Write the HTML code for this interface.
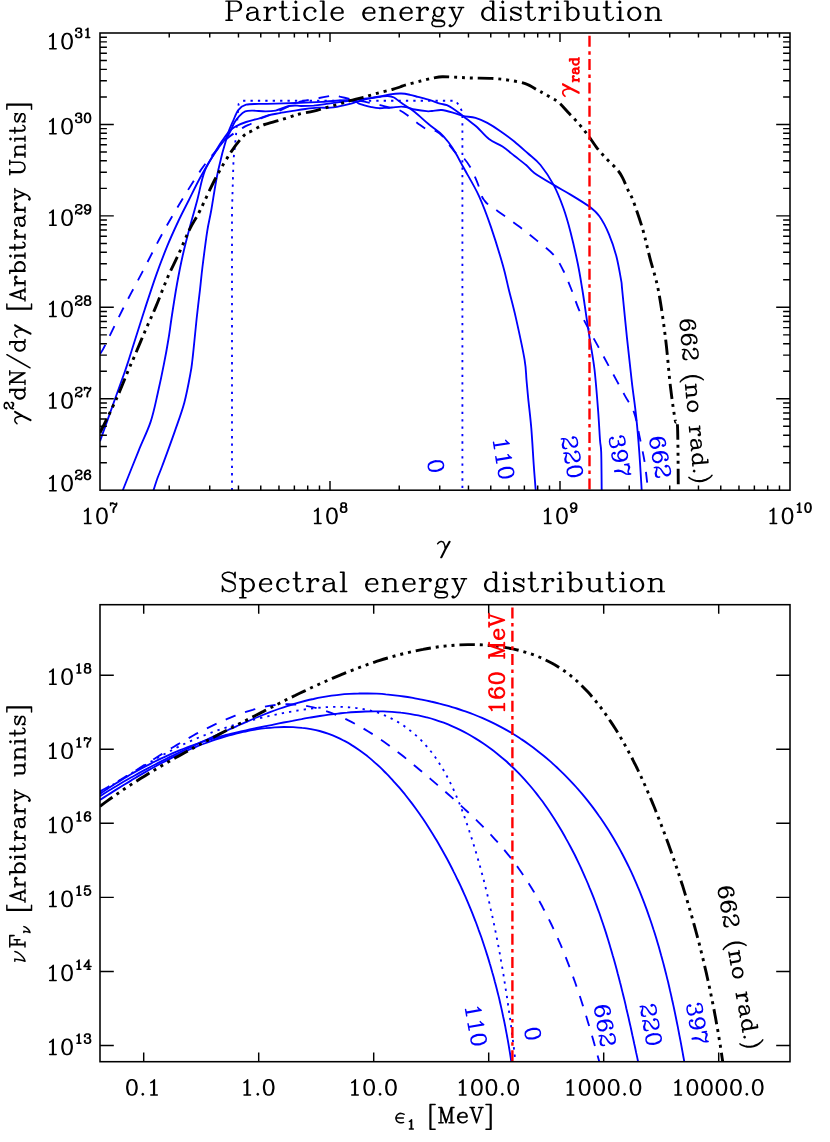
<!DOCTYPE html>
<html lang="en"><head><meta charset="utf-8"><title>Particle and spectral energy distributions</title>
<style>html,body{margin:0;padding:0;background:#fff;font-family:"Liberation Serif",serif}svg{display:block}</style></head>
<body><svg width="830" height="1142" viewBox="0 0 830 1142" role="img" aria-label="Particle energy distribution and Spectral energy distribution plots">
<desc>Top panel: Particle energy distribution; y axis gamma^2 dN/dgamma [Arbitrary Units] 10^26 to 10^31; x axis gamma 10^7 to 10^10; curves labelled 0, 110, 220, 397, 662 and 662 (no rad.); vertical line gamma_rad. Bottom panel: Spectral energy distribution; y axis nu F_nu [Arbitrary units] 10^13 to 10^18; x axis epsilon_1 [MeV] 0.1 1.0 10.0 100.0 1000.0 10000.0; curves 110, 0, 662, 220, 397, 662 (no rad.); vertical line 160 MeV.</desc>
<defs><path id="g0" d="M2 -21 14 -21 16 -20 17 -19 18 -17 18 -14 17 -12 16 -11 14 -10 6 -10M9 0 2 0M5 0 5 -21M6 0 6 -21M14 -10 17 -11 18 -12 19 -14 19 -17 18 -19 17 -20 14 -21"/><path id="g1" d="M5 -12 5 -11 4 -11 4 -12 5 -13 7 -14 11 -14 13 -13 14 -12 14 -3 12 -1 10 0 7 0 4 -1 3 -3 3 -5 4 -7 7 -8 5 -7 4 -5 4 -3 5 -1 7 0M14 -10 13 -9 7 -8M18 0 17 0 15 -1 14 -3M17 0 16 -1 15 -3 15 -10 14 -12"/><path id="g2" d="M2 -14 6 -14 6 0M9 0 2 0M5 0 5 -14M6 -8 7 -11 9 -13 11 -14 14 -14 15 -13 15 -12 14 -11 13 -12 14 -13"/><path id="g3" d="M10 -14 2 -14M5 -21 5 -4 6 -1 8 0 7 -1 6 -4 6 -21M13 -3 12 -1 10 0 8 0"/><path id="g4" d="M2 -14 6 -14 6 0M9 0 2 0M5 0 5 -14M4 -20 5 -21 6 -20 5 -19 4 -20"/><path id="g5" d="M15 -11 14 -10 15 -9 16 -10 16 -11 14 -13 12 -14 9 -14 6 -13 4 -11 3 -8 3 -6 4 -3 6 -1 9 0 7 -1 5 -3 4 -6 4 -8 5 -11 7 -13 9 -14M16 -3 14 -1 11 0 9 0"/><path id="g6" d="M2 -21 6 -21 6 0M9 0 2 0M5 0 5 -21"/><path id="g7" d="M16 -3 14 -1 11 0 9 0 6 -1 4 -3 3 -6 3 -8 4 -11 6 -13 9 -14 7 -13 5 -11 4 -8 4 -6 5 -3 7 -1 9 0M15 -8 15 -11 14 -13 12 -14 9 -14M14 -13 15 -12 16 -10 16 -8 4 -8"/><path id="g8" d="M2 -14 6 -14 6 0M9 0 2 0M5 0 5 -14M6 -11 8 -13 11 -14 13 -14 15 -13 16 -11 16 0M20 0 13 0M17 0 17 -11 16 -13 13 -14"/><path id="g9" d="M6 0 3 1 2 3 2 4 3 6 6 7 12 7 15 6 16 4 16 3 15 1 12 0 7 0 4 -1 3 -2 3 -3 4 -5 5 -6 4 -8 4 -10 5 -12 6 -13 5 -11 5 -7 6 -5 5 -6M16 3 15 2 12 1 7 1 4 0 3 -2M14 -13 16 -13 16 -14 14 -13 13 -12 12 -13 10 -14 8 -14 6 -13M12 -13 13 -11 13 -7 12 -5 10 -4 8 -4 6 -5M13 -12 14 -10 14 -8 13 -6 12 -5"/><path id="g10" d="M8 -14 2 -14M4 6 3 5 2 6 3 7 4 7 6 6 8 4 10 0 4 -14M10 -2 5 -14M16 -14 10 0M18 -14 12 -14"/><path id="g11" d="M12 -21 16 -21 16 0M15 -11 13 -13 11 -14 9 -14 6 -13 4 -11 3 -8 3 -6 4 -3 6 -1 9 0 7 -1 5 -3 4 -6 4 -8 5 -11 7 -13 9 -14M15 -3 13 -1 11 0 9 0M15 -21 15 0 19 0"/><path id="g12" d="M3 -11 4 -10 6 -9 11 -7 13 -6 14 -5 14 -2 13 -1 11 0 7 0 5 -1 4 -2 3 -4 3 0 4 -2M14 -4 13 -5 11 -6 6 -8 4 -9 3 -10 3 -12 4 -13 6 -14 10 -14 12 -13 13 -12 14 -14 14 -10 13 -12"/><path id="g13" d="M2 -21 6 -21 6 0M5 0 5 -21M6 -11 8 -13 10 -14 12 -14 14 -13 16 -11 17 -8 17 -6 16 -3 14 -1 12 0 10 0 8 -1 6 -3M12 0 15 -1 17 -3 18 -6 18 -8 17 -11 15 -13 12 -14"/><path id="g14" d="M2 -14 6 -14 6 -3 7 -1 9 0 6 -1 5 -3 5 -14M13 -14 17 -14 17 0M16 -3 14 -1 11 0 9 0M16 -14 16 0 20 0"/><path id="g15" d="M3 -8 3 -6 4 -3 6 -1 9 0 7 -1 5 -3 4 -6 4 -8 5 -11 7 -13 9 -14 6 -13 4 -11 3 -8M9 0 11 0 13 -1 15 -3 16 -6 16 -8 15 -11 13 -13 11 -14 9 -14M11 0 14 -1 16 -3 17 -6 17 -8 16 -11 14 -13 11 -14"/><path id="g16" d="M16 -18 17 -15 17 -21 16 -18 14 -20 11 -21 8 -21 5 -20 3 -18 3 -16 4 -14 5 -13 7 -12 13 -10 15 -9 17 -7 16 -9 15 -10 13 -11 7 -13 5 -14 3 -16M3 -6 3 0 4 -3 3 -6M17 -7 17 -3 15 -1 12 0 9 0 6 -1 4 -3"/><path id="g17" d="M2 -14 6 -14 6 7M9 7 2 7M5 7 5 -14M6 -11 8 -13 10 -14 12 -14 14 -13 16 -11 17 -8 17 -6 16 -3 14 -1 12 0 10 0 8 -1 6 -3M12 0 15 -1 17 -3 18 -6 18 -8 17 -11 15 -13 12 -14"/><path id="g18" d="M6 -17 8 -18 11 -21 11 0M15 0 6 0M10 0 10 -20"/><path id="g19" d="M3 -12 3 -9 4 -4 6 -1 9 0 7 -1 6 -2 5 -4 4 -9 4 -12 5 -17 6 -19 7 -20 9 -21 6 -20 4 -17 3 -12M9 0 11 0 13 -1 14 -2 15 -4 16 -9 16 -12 15 -17 14 -19 13 -20 11 -21 9 -21M11 0 14 -1 16 -4 17 -9 17 -12 16 -17 14 -20 11 -21"/><path id="g20" d="M4 -17 5 -16 4 -15 3 -16 3 -17 4 -19 5 -20 8 -21 12 -21 14 -20 15 -18 15 -15 14 -13 12 -12 9 -12M4 -4 5 -5 4 -6 3 -5 3 -4 4 -2 5 -1 8 0 12 0 14 -1 15 -2 16 -4 16 -7 15 -10M12 0 15 -1 16 -2 17 -4 17 -7 16 -9 14 -11 12 -12 15 -13 16 -15 16 -18 15 -20 12 -21"/><path id="g21" d="M3 0 3 -3 4 -6 6 -8 12 -11 15 -13 16 -15 16 -17 15 -19 14 -20 12 -21 8 -21 5 -20 4 -19 3 -17 3 -16 4 -15 5 -16 4 -17M3 -2 4 -3 6 -3 11 -1 14 -1 16 -2 17 -3 16 -1 15 0 11 0 6 -3M8 -9 13 -11 16 -13 17 -15 17 -17 16 -19 15 -20 12 -21M17 -5 17 -3"/><path id="g22" d="M5 -3 6 -4 5 -5 4 -4 4 -3 5 -1 7 0 10 0 12 -1 14 -3 15 -5 16 -9 16 -15 15 -18 13 -20 11 -21 9 -21 6 -20 4 -18 3 -15 3 -14 4 -11 6 -9 9 -8 7 -9 5 -11 4 -14 4 -15 5 -18 7 -20 9 -21M16 -14 15 -11 13 -9 10 -8 9 -8M11 -21 14 -20 16 -18 17 -15 17 -9 16 -5 15 -3 13 -1 10 0"/><path id="g23" d="M3 -8 3 -4 4 -2 5 -1 8 0 6 -1 5 -2 4 -4 4 -8 5 -10 6 -11 8 -12 5 -13 4 -15 4 -18 5 -20 8 -21 6 -20 5 -18 5 -15 6 -13 8 -12 5 -11 4 -10 3 -8M8 -12 12 -12 14 -13 15 -15 15 -18 14 -20 12 -21 8 -21M8 0 12 0 14 -1 15 -2 16 -4 16 -8 15 -10 14 -11 12 -12 15 -13 16 -15 16 -18 15 -20 12 -21M12 0 15 -1 16 -2 17 -4 17 -8 16 -10 15 -11 12 -12"/><path id="g24" d="M3 -15 3 -21M3 -17 4 -19 6 -21 8 -21 13 -18 8 -20 6 -20 4 -19M9 0 9 -5 10 -8 11 -10 16 -15 12 -10 11 -8 10 -5 10 0M16 -15 17 -18 17 -21 16 -19 15 -18 13 -18"/><path id="g25" d="M4 -7 5 -10 7 -12 10 -13 11 -13 13 -12 15 -10 16 -7 16 -6 15 -3 13 -1 11 0 9 0 6 -1 4 -3 3 -6 3 -12 4 -16 5 -18 7 -20 10 -21 8 -20 6 -18 5 -16 4 -12 4 -6 5 -3 7 -1 9 0M15 -18 14 -17 15 -16 16 -17 16 -18 15 -20 13 -21 10 -21M11 0 14 -1 16 -3 17 -6 17 -7 16 -10 14 -12 11 -13"/><path id="g26" d="M4 -4 5 -5 4 -6 3 -5 3 -4 4 -2 5 -1 8 0 11 0 13 -1 15 -3 16 -6 16 -8 15 -11 13 -13 11 -14 8 -14 5 -13 3 -11 5 -21 15 -21 10 -20 5 -20M11 0 14 -1 16 -3 17 -6 17 -8 16 -11 14 -13 11 -14"/><path id="g27" d="M18 -6 2 -6 5 -10 10 -17 2 -6 13 -21 5 -10M16 0 9 0M12 0 12 -19M13 0 13 -21 10 -17"/><path id="g28" d="M4 -1 5 -2 6 -1 5 0 4 -1"/><path id="g29" d="M1 -11L3 -13 5 -14 7 -14 9 -13 10 -11 11 -8 11.5 -4 11.5 -2M18 -14L12 -3 6.5 8M17 -14L11 -3 5.5 8"/><path id="g30" d="M2 -21 6 -21 11 -13 13 -10 6 -21 18 -2 11 -13M8 0 2 0M5 0 5 -21M21 -21 15 -21M18 -21 18 0 6 -19 11 -11 13 -8 6 -19M11 -11 18 0 13 -8M13 -10 18 -2"/><path id="g31" d="M2 7 7 -2 6 0 16 -18 15 -16 20 -25 11 -9 2 7"/><path id="g32" d="M4 6.88 4 -25 11 -25M4 7.94 4 -23.94M4 -22.88 4 9 11 9M5 6.88 5 -25M5 7.94 5 -23.94M5 9 5 -22.88"/><path id="g33" d="M7 0 1 0M3 0 10 -21 17 0M14 -6 5 -6M16 0 10 -18M19 0 13 0"/><path id="g34" d="M9 -21 2 -21M5 -21 5 -6 6 -3 8 -1 11 0 9 -1 7 -3 6 -6 6 -21M22 -21 16 -21M19 -21 19 -6 18 -3 16 -1 13 0 11 0"/><path id="g35" d="M3 -25 10 -25 10 6.88M3 9 10 9 10 -22.88M9 6.88 9 -25M9 7.94 9 -23.94M9 9 9 -22.88M10 7.94 10 -23.94"/><path id="g36" d="M1 -14L4 -14 3 -8 2 -3 1 0M14.5 -14L13.5 -11 12 -8.5 10 -6 7 -3 4 -1 1 0"/><path id="g37" d="M2 -21 18 -21 18 -15 17 -21M9 0 2 0M5 0 5 -21M6 0 6 -21M12 -11 6 -11M12 -7 12 -15"/><path id="g38" d="M13.5 -11.62L11 -12.56 8 -13.02 5.5 -12.09 3.5 -10.23 2.3 -7.91 2 -6.51 2.3 -4.65 3.5 -2.33 5.5 -0.74 8 0 10.5 0 12.7 -0.47M2 -6.51L12.3 -6.51"/><path id="g39" d="M2 -21 6 -21 12 -3M8 0 2 0M5 0 5 -21 12 0 19 -21 19 0M23 0 16 0M23 -21 19 -21M20 0 20 -21"/><path id="g40" d="M7 -21 1 -21M3 -21 10 0 17 -21M10 -3 4 -21M19 -21 13 -21"/><path id="g41" d="M11 -25 9 -23 7 -20 5 -16 4 -11 4 -7 5 -2 7 2 9 5 7 1 6 -2 5 -7 5 -11 6 -16 7 -19 9 -23M11 7 9 5"/><path id="g42" d="M3 -25 5 -23 7 -20 9 -16 10 -11 10 -7 9 -2 7 2 5 5 3 7M5 5 7 1 8 -2 9 -7 9 -11 8 -16 7 -19 5 -23"/></defs>
<rect width="830" height="1142" fill="#fff"/>
<g fill="none" stroke-linecap="butt" stroke-linejoin="round">
<clipPath id="c1"><rect x="100" y="33" width="690" height="457.2"/></clipPath><clipPath id="c2"><rect x="100" y="604.7" width="690" height="457"/></clipPath>
<g clip-path="url(#c1)">
<path d="M232.0 490.2L232.0 210.0L233.5 160.0L236.0 135.0L238.6 104.0L242.3 100.7L455.3 100.7L458.5 104.5L462.4 112.0L462.4 490.2" stroke="#0000ff" stroke-width="1.85" stroke-dasharray="2.3 5.1"/>
<path d="M153.5 490.2C154.2 488.1 156.3 481.4 157.8 477.3C159.3 473.2 159.7 472.9 162.5 465.3C165.3 457.7 171.1 442.0 174.7 431.6C178.3 421.2 181.7 412.4 184.3 402.7C186.9 393.0 189.1 380.8 190.4 373.7C191.8 366.6 191.7 365.6 192.4 360.0C193.1 354.4 193.8 346.8 194.5 340.0C195.2 333.2 195.7 327.4 196.6 319.0C197.5 310.6 199.0 298.2 200.0 289.6C201.0 281.0 201.2 277.2 202.4 267.5C203.6 257.8 205.7 240.9 207.2 231.3C208.7 221.7 209.5 220.1 211.3 210.0C213.1 199.9 215.4 183.3 218.1 170.8C220.8 158.3 224.9 143.4 227.5 135.0C230.1 126.6 231.6 124.5 233.4 120.3C235.2 116.1 236.4 112.4 238.5 109.8C240.6 107.2 242.7 105.7 246.1 104.7C249.5 103.7 253.8 104.1 258.7 103.9C263.6 103.7 269.6 103.9 275.6 103.7C281.7 103.5 290.1 103.2 295.0 103.0C299.9 102.8 300.8 102.8 305.3 102.6C309.8 102.4 316.6 102.1 322.2 101.8C327.8 101.5 334.4 100.8 339.0 100.5C343.6 100.2 347.1 100.1 350.0 100.3C352.9 100.5 354.8 101.4 356.3 101.9C357.8 102.5 357.2 102.9 359.0 103.6C360.8 104.3 365.0 105.5 367.2 106.1C369.4 106.7 370.0 106.8 372.0 107.2C374.0 107.6 376.9 108.1 379.0 108.2C381.1 108.3 382.1 108.0 384.3 107.9C386.5 107.8 389.2 107.7 392.0 107.5C394.8 107.3 398.5 106.6 401.2 106.6C403.9 106.6 405.8 107.1 408.0 107.6C410.2 108.1 411.6 108.9 414.7 109.5C417.8 110.1 423.6 111.0 426.5 111.2C429.4 111.5 429.4 111.2 432.0 111.0C434.6 110.8 438.2 109.7 441.8 110.0C445.4 110.3 450.1 111.8 453.6 112.8C457.1 113.8 459.2 115.1 462.9 115.9C466.5 116.8 471.4 116.7 475.5 117.9C479.6 119.1 483.1 120.7 487.3 122.9C491.5 125.2 496.3 128.3 500.8 131.4C505.3 134.5 509.8 137.8 514.3 141.5C518.8 145.2 523.4 149.4 527.8 153.3C532.2 157.2 536.2 159.7 540.5 165.0C544.8 170.3 549.8 177.8 553.6 184.9C557.4 192.0 560.5 200.0 563.3 207.8C566.1 215.6 568.1 222.7 570.5 231.9C572.9 241.2 575.7 253.6 577.7 263.3C579.7 273.0 581.0 281.5 582.4 290.0C583.8 298.5 584.8 306.1 586.0 314.1C587.2 322.1 588.2 329.0 589.6 338.2C591.0 347.4 593.1 357.4 594.5 369.5C595.9 381.6 597.2 398.8 598.1 410.5C599.0 422.2 599.5 433.0 600.0 440.0C600.5 447.0 600.9 443.9 601.2 452.3C601.5 460.7 601.6 483.9 601.7 490.2" stroke="#0000ff" stroke-width="1.85"/>
<path d="M122.9 490.2C123.1 489.7 121.5 493.6 124.1 487.0C126.7 480.4 134.2 461.7 138.6 450.8C143.0 439.9 147.4 431.5 150.6 421.9C153.8 412.3 155.6 402.6 157.8 393.0C160.0 383.4 162.2 372.9 163.9 364.1C165.7 355.3 167.1 347.5 168.3 340.0C169.6 332.5 170.0 328.3 171.4 319.0C172.8 309.7 175.1 294.5 177.0 284.0C178.9 273.5 180.5 265.3 182.6 256.0C184.7 246.7 187.1 237.3 189.6 228.0C192.1 218.7 194.8 209.5 197.3 200.0C199.8 190.5 201.5 179.1 204.8 170.8C208.1 162.5 213.1 156.0 217.0 150.0C220.9 144.0 225.5 139.5 228.4 135.0C231.3 130.5 232.5 126.0 234.3 122.8C236.1 119.6 237.5 118.0 239.3 116.1C241.1 114.2 242.9 112.3 245.2 111.4C247.4 110.5 249.4 110.6 252.8 110.6C256.2 110.6 261.7 111.4 265.5 111.4C269.3 111.4 272.5 111.2 275.6 110.6C278.7 110.0 281.8 108.4 284.0 107.6C286.2 106.8 287.3 106.3 289.1 106.0C290.9 105.7 293.0 105.5 295.0 105.5C297.0 105.5 297.9 106.0 301.0 106.0C304.1 106.0 309.5 105.9 313.7 105.6C317.9 105.2 322.2 104.5 326.4 103.9C330.6 103.3 335.1 102.8 339.0 102.2C342.9 101.6 347.1 100.9 350.0 100.5C352.9 100.1 354.1 100.3 356.3 100.0C358.5 99.7 360.6 99.1 363.0 98.8C365.4 98.5 367.8 98.4 370.6 98.1C373.4 97.8 377.1 97.1 380.0 96.8C382.9 96.5 385.4 95.9 387.7 96.0C390.0 96.1 391.8 96.4 394.0 97.5C396.2 98.6 397.8 100.4 401.2 102.8C404.6 105.2 410.2 108.5 414.7 112.0C419.2 115.5 424.0 120.3 428.2 123.8C432.4 127.3 436.7 129.9 440.1 133.0C443.5 136.1 446.0 139.1 448.5 142.3C451.0 145.6 453.2 149.0 455.3 152.5C457.4 156.0 459.7 160.6 461.2 163.4C462.7 166.2 461.6 163.9 464.5 169.3C467.4 174.7 474.5 186.2 478.9 195.8C483.3 205.4 487.0 215.4 491.0 227.1C495.0 238.8 500.0 255.2 503.0 265.7C506.0 276.2 506.7 281.1 508.9 290.0C511.1 298.9 513.5 307.2 516.1 318.9C518.7 330.5 522.9 349.7 524.6 359.9C526.3 370.1 525.9 373.6 526.5 380.0C527.1 386.4 527.4 390.4 528.2 398.4C529.0 406.4 530.4 417.2 531.3 428.2C532.2 439.2 533.0 454.0 533.7 464.3C534.4 474.6 535.4 485.9 535.7 490.2" stroke="#0000ff" stroke-width="1.85"/>
<path d="M100.0 441.2C102.0 435.6 108.0 418.8 112.0 407.5C116.0 396.2 121.3 381.6 124.1 373.7C126.9 365.8 126.9 365.6 128.7 360.0C130.5 354.4 132.3 348.5 135.0 340.0C137.7 331.5 141.3 319.9 144.8 309.2C148.3 298.5 152.3 286.1 156.0 275.6C159.7 265.1 163.5 255.3 167.2 246.2C170.9 237.1 174.8 228.7 178.4 221.0C182.0 213.3 185.3 207.2 188.9 200.0C192.5 192.8 195.9 185.5 200.0 178.0C204.1 170.5 209.6 161.2 213.3 155.0C217.0 148.8 219.3 144.9 222.0 141.0C224.7 137.1 226.9 133.8 229.2 131.3C231.5 128.8 233.2 127.8 236.0 126.2C238.8 124.7 242.3 123.3 246.1 122.0C249.9 120.7 254.9 119.7 258.7 118.6C262.5 117.5 265.3 116.1 268.8 115.2C272.3 114.3 275.4 113.9 279.8 113.1C284.2 112.3 290.8 111.3 295.0 110.6C299.2 109.9 301.5 109.5 305.3 109.0C309.1 108.5 313.8 107.9 318.0 107.7C322.2 107.5 327.1 107.9 330.6 107.7C334.1 107.5 335.8 107.0 339.0 106.4C342.2 105.8 347.1 104.7 350.0 103.9C352.9 103.2 354.1 102.6 356.3 101.9C358.5 101.2 360.6 100.6 363.0 100.0C365.4 99.4 367.8 98.7 370.6 98.1C373.4 97.5 376.8 97.1 380.0 96.5C383.2 95.9 386.5 94.8 390.0 94.3C393.5 93.8 397.9 93.4 401.2 93.5C404.5 93.6 407.2 94.2 410.0 94.8C412.8 95.4 414.7 96.0 418.0 96.9C421.3 97.8 426.3 99.1 430.0 100.2C433.7 101.3 437.2 102.8 440.0 103.6C442.8 104.4 444.4 104.1 446.9 105.2C449.4 106.3 452.3 108.2 455.0 110.0C457.7 111.8 460.4 114.0 462.9 115.9C465.4 117.8 467.6 119.6 470.0 121.5C472.4 123.4 474.0 124.3 477.2 127.2C480.4 130.1 484.8 135.8 489.0 139.0C493.2 142.2 498.3 143.8 502.5 146.6C506.7 149.4 510.4 152.7 514.3 155.8C518.2 158.9 522.8 162.2 526.1 165.0C529.4 167.8 529.7 169.6 534.3 172.9C538.9 176.2 547.6 181.3 553.6 184.9C559.6 188.5 564.5 191.0 570.5 194.6C576.5 198.2 584.5 203.0 589.3 206.6C594.1 210.2 596.1 211.7 599.4 216.3C602.7 220.9 606.2 227.7 609.0 234.3C611.8 240.9 614.3 248.4 616.3 256.0C618.3 263.6 620.1 274.4 621.1 280.1C622.1 285.8 621.2 280.3 622.2 290.0C623.2 299.7 625.4 322.9 627.0 338.2C628.6 353.5 630.3 368.6 631.8 381.6C633.3 394.6 634.9 404.3 636.1 416.1C637.4 427.9 638.4 440.0 639.3 452.3C640.2 464.6 641.3 483.9 641.7 490.2" stroke="#0000ff" stroke-width="1.85"/>
<path d="M100.0 354.0C100.8 352.6 101.1 353.3 104.9 345.7C108.8 338.1 116.8 320.9 123.1 308.5C129.4 296.1 136.3 283.6 142.7 271.4C149.1 259.1 155.1 246.9 161.6 235.0C168.1 223.1 175.3 210.9 181.9 200.0C188.5 189.1 195.7 177.6 201.2 169.6C206.7 161.6 210.6 157.3 215.0 152.0C219.4 146.7 223.1 142.0 227.7 138.0C232.3 134.0 238.8 130.3 242.7 127.9C246.6 125.5 247.9 125.4 251.1 123.7C254.3 122.0 258.9 119.3 262.1 117.8C265.3 116.3 267.6 116.0 270.5 114.8C273.4 113.6 276.7 112.1 279.8 110.6C282.9 109.1 285.6 107.5 289.1 106.0C292.6 104.5 297.7 102.5 301.0 101.5C304.3 100.5 305.7 100.6 308.7 100.0C311.7 99.4 315.8 98.7 319.2 98.0C322.6 97.3 326.7 96.5 329.3 96.1C331.9 95.7 333.2 95.7 335.0 95.8C336.8 95.9 337.5 96.0 340.0 96.6C342.5 97.1 346.8 98.4 350.1 99.1C353.4 99.8 356.5 100.3 359.8 100.9C363.1 101.5 366.6 102.2 370.0 102.9C373.4 103.6 377.1 104.3 380.2 105.1C383.3 105.9 385.4 106.6 388.7 107.5C392.0 108.4 396.7 109.0 400.1 110.5C403.5 112.0 406.3 114.5 409.2 116.6C412.1 118.7 414.8 121.2 417.6 123.2C420.4 125.2 423.7 127.8 425.9 128.9C428.1 130.0 429.3 129.6 431.0 130.0C432.7 130.4 434.2 130.2 436.1 131.2C438.0 132.2 440.0 133.5 442.2 135.8C444.4 138.1 447.2 142.4 449.4 145.2C451.6 148.0 453.5 150.8 455.4 152.6C457.2 154.4 459.0 154.7 460.5 155.8C462.0 156.9 462.8 157.1 464.5 159.0C466.2 160.9 468.7 164.4 470.5 167.5C472.3 170.6 473.9 174.5 475.3 177.7C476.7 180.9 477.8 183.6 478.9 186.7C480.0 189.8 481.0 194.1 481.9 196.4C482.8 198.7 483.4 199.1 484.5 200.5C485.6 201.9 486.3 203.0 488.6 204.8C490.9 206.6 493.0 207.7 498.2 211.4C503.4 215.1 513.5 222.3 519.9 227.1C526.3 231.9 531.1 235.8 536.7 240.4C542.3 245.0 549.2 249.8 553.6 254.8C558.0 259.8 560.3 264.6 563.3 270.5C566.3 276.4 569.0 283.5 571.6 290.0C574.2 296.5 576.0 302.9 578.8 309.3C581.6 315.7 585.2 322.4 588.4 328.6C591.6 334.8 594.5 339.8 598.1 346.4C601.7 353.0 605.7 360.4 610.1 368.5C614.5 376.6 620.6 387.7 624.6 395.1C628.6 402.5 631.7 405.8 634.2 412.9C636.7 420.0 638.1 429.6 639.8 437.8C641.5 446.0 643.4 454.7 644.6 461.9C645.8 469.1 646.4 476.5 647.0 481.2C647.6 485.9 648.2 488.7 648.5 490.2" stroke="#0000ff" stroke-width="1.85" stroke-dasharray="10.7 10"/>
<path d="M100.0 432.8C102.8 427.0 112.1 408.5 116.9 397.8C121.7 387.1 126.1 375.5 128.9 368.9C131.7 362.3 130.9 364.5 133.6 358.3C136.2 352.1 141.1 340.4 144.8 331.7C148.5 323.0 152.3 315.3 156.0 306.4C159.7 297.5 163.5 287.0 167.2 278.4C170.9 269.8 174.7 262.8 178.4 254.6C182.1 246.4 186.0 236.8 189.6 229.4C193.2 222.1 195.7 219.1 200.0 210.5C204.3 201.9 210.5 187.8 215.7 178.0C220.9 168.2 226.5 158.8 231.3 151.6C236.1 144.4 241.1 138.4 244.4 135.0C247.7 131.6 248.8 132.6 251.1 131.3C253.3 130.1 255.6 128.6 257.9 127.5C260.1 126.4 261.2 125.6 264.6 124.5C268.0 123.4 274.7 121.7 278.1 120.7C281.5 119.7 282.5 119.4 284.9 118.6C287.3 117.8 290.1 116.9 292.5 116.1C294.9 115.3 295.9 114.8 299.4 114.0C302.9 113.2 309.1 112.2 313.7 111.1C318.3 110.0 322.4 108.6 327.2 107.3C332.0 106.0 338.6 104.2 342.4 103.1C346.2 102.0 346.6 101.7 350.1 100.7C353.6 99.7 358.8 98.6 363.4 97.3C368.0 96.0 373.0 94.4 377.8 93.1C382.6 91.8 388.6 90.5 392.3 89.5C396.0 88.5 397.7 87.8 400.0 87.0C402.3 86.2 402.7 85.8 406.1 84.8C409.5 83.8 416.0 82.2 420.6 81.0C425.2 79.8 430.0 78.6 433.6 77.9C437.2 77.2 438.5 76.8 442.3 76.7C446.1 76.6 451.9 77.1 456.7 77.3C461.5 77.5 465.4 77.8 471.2 78.0C477.0 78.2 485.4 78.1 491.6 78.4C497.8 78.8 502.8 79.2 508.4 80.1C514.0 81.0 520.4 82.0 525.3 83.7C530.2 85.4 534.7 88.6 537.9 90.3C541.1 92.0 542.2 92.5 544.5 93.8C546.8 95.1 549.1 96.5 551.5 98.0C553.9 99.5 556.0 100.0 558.9 102.5C561.8 105.0 565.6 109.7 569.0 113.3C572.4 116.9 576.1 120.6 579.2 124.2C582.3 127.8 584.9 131.2 587.8 135.0C590.7 138.8 593.4 143.3 596.5 147.3C599.6 151.3 603.2 155.3 606.6 158.9C610.0 162.5 614.1 165.9 616.7 169.0C619.4 172.1 620.6 174.0 622.5 177.6C624.4 181.2 626.5 186.9 628.3 190.7C630.1 194.5 630.7 194.1 633.1 200.6C635.5 207.1 640.0 219.9 642.8 229.5C645.6 239.1 647.4 248.3 650.0 258.4C652.6 268.5 655.7 276.7 658.3 290.0C660.9 303.3 663.5 322.1 665.5 338.2C667.5 354.3 668.8 372.8 670.4 386.4C672.0 400.0 674.0 413.5 675.2 420.1C676.4 426.7 677.0 414.9 677.5 426.0C678.0 437.1 678.2 476.8 678.3 487.0" stroke="#000" stroke-width="2.9" stroke-dasharray="15.4 4.95 3 4.95 3 4.95 3 4.95"/>
<path d="M589.5 33L589.5 490.2" stroke="#ff0000" stroke-width="2.4" stroke-dasharray="11 4.4 3.5 4.4" stroke-dashoffset="20.5"/>
</g><g clip-path="url(#c2)">
<path d="M100.0 792.6C101.3 791.8 105.1 789.5 107.6 788.0C110.2 786.4 112.7 784.8 115.3 783.3C117.8 781.7 120.4 780.1 123.0 778.5C125.6 776.9 128.1 775.3 130.7 773.8C133.3 772.2 135.9 770.6 138.5 769.0C141.1 767.5 143.7 765.9 146.4 764.4C149.0 762.8 151.6 761.3 154.3 759.8C156.9 758.3 159.6 756.8 162.2 755.3C164.9 753.8 167.6 752.4 170.3 751.0C172.9 749.6 175.6 748.2 178.3 746.8C181.0 745.5 183.8 744.2 186.5 742.9C189.2 741.7 192.0 740.4 194.7 739.3C197.5 738.1 200.2 736.9 203.0 735.8C205.8 734.7 208.6 733.7 211.4 732.6C214.2 731.6 217.0 730.6 219.8 729.6C222.6 728.7 225.5 727.7 228.3 726.8C231.2 725.9 234.0 725.1 236.9 724.2C239.8 723.4 242.7 722.6 245.6 721.8C248.5 721.0 251.4 720.2 254.4 719.5C257.3 718.7 260.3 718.0 263.2 717.3C266.2 716.7 269.1 716.0 272.1 715.4C275.1 714.7 278.1 714.1 281.1 713.5C284.1 712.9 287.1 712.4 290.1 711.8C293.1 711.3 296.1 710.8 299.1 710.3C302.1 709.8 305.1 709.4 308.1 709.0C311.2 708.6 314.2 708.2 317.2 707.9C320.3 707.6 323.3 707.4 326.3 707.2C329.4 707.0 332.4 706.9 335.5 706.9C338.5 706.8 341.6 706.9 344.6 707.0C347.6 707.2 350.7 707.4 353.7 707.7C356.7 708.0 359.7 708.4 362.7 709.0C365.6 709.5 368.6 710.1 371.5 710.9C374.3 711.7 377.2 712.5 380.0 713.5C382.8 714.5 385.5 715.7 388.2 716.9C390.8 718.1 393.4 719.5 396.0 721.0C398.6 722.4 401.1 724.0 403.5 725.6C405.9 727.3 408.3 729.0 410.6 730.9C412.9 732.7 415.2 734.7 417.4 736.7C419.5 738.7 421.7 740.8 423.7 743.0C425.7 745.2 427.7 747.5 429.6 749.8C431.5 752.1 433.3 754.5 435.1 757.0C436.8 759.5 438.5 762.0 440.1 764.6C441.8 767.1 443.3 769.7 444.8 772.4C446.3 775.1 447.7 777.8 449.1 780.5C450.5 783.2 451.8 785.9 453.1 788.7C454.4 791.5 455.6 794.3 456.8 797.1C458.0 799.9 459.1 802.7 460.3 805.5C461.4 808.4 462.4 811.2 463.5 814.1C464.5 816.9 465.5 819.8 466.5 822.7C467.5 825.5 468.5 828.4 469.4 831.3C470.4 834.2 471.3 837.1 472.2 840.0C473.1 842.9 474.0 845.8 474.9 848.7C475.8 851.5 476.6 854.4 477.5 857.4C478.3 860.3 479.1 863.2 479.9 866.1C480.8 869.0 481.5 871.9 482.3 874.8C483.1 877.7 483.9 880.6 484.6 883.6C485.3 886.5 486.1 889.4 486.8 892.3C487.5 895.2 488.2 898.2 488.9 901.1C489.6 904.0 490.3 907.0 490.9 909.9C491.6 912.8 492.2 915.8 492.9 918.7C493.5 921.7 494.1 924.6 494.7 927.5C495.3 930.5 495.9 933.4 496.5 936.4C497.1 939.3 497.7 942.3 498.2 945.2C498.8 948.2 499.3 951.2 499.9 954.1C500.4 957.1 500.9 960.0 501.4 963.0C502.0 966.0 502.5 968.9 503.0 971.9C503.5 974.9 504.0 977.9 504.4 980.8C504.9 983.8 505.4 986.8 505.8 989.8C506.3 992.7 506.8 995.7 507.2 998.7C507.6 1001.7 508.1 1004.7 508.5 1007.7C508.9 1010.7 509.3 1013.6 509.8 1016.6C510.2 1019.6 510.6 1022.6 511.0 1025.6C511.4 1028.6 511.8 1031.6 512.2 1034.6C512.5 1037.6 512.9 1040.6 513.3 1043.6C513.7 1046.6 514.1 1049.7 514.4 1052.7C514.8 1055.7 515.3 1060.2 515.5 1061.7" stroke="#0000ff" stroke-width="1.85" stroke-dasharray="2.3 5.1"/>
<path d="M100.0 799.9C101.3 799.1 105.2 796.6 107.7 795.0C110.3 793.4 112.9 791.7 115.4 790.1C118.0 788.5 120.6 786.9 123.2 785.3C125.8 783.7 128.3 782.1 130.9 780.6C133.5 779.0 136.1 777.5 138.7 775.9C141.3 774.4 143.9 772.9 146.5 771.4C149.1 769.9 151.7 768.4 154.4 767.0C157.0 765.5 159.6 764.1 162.3 762.7C164.9 761.3 167.6 759.9 170.3 758.6C173.0 757.2 175.7 755.9 178.4 754.6C181.1 753.3 183.8 752.1 186.5 750.9C189.3 749.6 192.0 748.5 194.8 747.3C197.6 746.2 200.4 745.0 203.2 744.0C206.0 742.9 208.9 741.8 211.7 740.8C214.6 739.8 217.5 738.9 220.4 738.0C223.3 737.1 226.3 736.2 229.2 735.4C232.2 734.5 235.2 733.8 238.2 733.0C241.2 732.3 244.2 731.7 247.3 731.0C250.3 730.4 253.4 729.9 256.4 729.4C259.5 728.9 262.6 728.5 265.6 728.2C268.7 727.8 271.8 727.5 274.8 727.3C277.9 727.1 281.0 727.0 284.0 727.0C287.1 727.0 290.1 727.0 293.1 727.1C296.1 727.3 299.1 727.5 302.1 727.9C305.1 728.2 308.0 728.6 310.9 729.1C313.8 729.7 316.7 730.3 319.6 731.0C322.4 731.8 325.2 732.6 328.0 733.6C330.7 734.6 333.4 735.6 336.1 736.8C338.8 738.0 341.4 739.3 344.0 740.7C346.6 742.0 349.2 743.5 351.7 745.1C354.2 746.6 356.7 748.3 359.1 750.0C361.5 751.7 363.9 753.5 366.3 755.3C368.6 757.2 371.0 759.1 373.2 761.1C375.5 763.1 377.8 765.1 380.0 767.2C382.2 769.3 384.3 771.5 386.5 773.7C388.6 775.8 390.7 778.1 392.8 780.3C394.8 782.6 396.9 784.8 398.9 787.2C400.9 789.5 402.8 791.8 404.8 794.2C406.7 796.6 408.6 799.0 410.4 801.4C412.3 803.8 414.1 806.3 415.9 808.8C417.7 811.3 419.5 813.8 421.2 816.3C423.0 818.8 424.7 821.4 426.4 823.9C428.1 826.5 429.7 829.1 431.3 831.7C433.0 834.3 434.5 836.9 436.1 839.5C437.7 842.2 439.2 844.8 440.7 847.5C442.2 850.1 443.7 852.8 445.2 855.5C446.7 858.1 448.1 860.8 449.5 863.5C450.9 866.2 452.3 868.9 453.6 871.6C455.0 874.3 456.3 877.0 457.6 879.8C459.0 882.5 460.2 885.2 461.5 888.0C462.8 890.7 464.0 893.5 465.2 896.2C466.4 899.0 467.6 901.8 468.8 904.6C469.9 907.3 471.1 910.1 472.2 912.9C473.3 915.7 474.4 918.5 475.5 921.3C476.6 924.1 477.6 927.0 478.6 929.8C479.7 932.6 480.7 935.5 481.7 938.3C482.6 941.1 483.6 944.0 484.5 946.8C485.5 949.7 486.4 952.6 487.3 955.4C488.2 958.3 489.1 961.2 489.9 964.1C490.8 967.0 491.6 969.9 492.4 972.8C493.3 975.7 494.1 978.6 494.8 981.5C495.6 984.4 496.4 987.3 497.1 990.2C497.8 993.2 498.6 996.1 499.3 999.0C500.0 1002.0 500.6 1004.9 501.3 1007.9C502.0 1010.8 502.6 1013.8 503.2 1016.8C503.9 1019.7 504.5 1022.7 505.1 1025.7C505.6 1028.7 506.2 1031.6 506.8 1034.6C507.3 1037.6 507.9 1040.6 508.4 1043.6C508.9 1046.6 509.4 1049.6 509.9 1052.6C510.4 1055.7 511.1 1060.2 511.3 1061.7" stroke="#0000ff" stroke-width="1.85"/>
<path d="M100.0 793.9C101.3 793.0 105.1 790.4 107.6 788.8C110.2 787.1 112.7 785.4 115.3 783.8C117.9 782.2 120.5 780.6 123.1 779.0C125.7 777.4 128.3 775.9 130.9 774.3C133.5 772.8 136.2 771.3 138.8 769.9C141.5 768.4 144.1 767.0 146.8 765.6C149.5 764.2 152.2 762.9 154.9 761.5C157.6 760.2 160.3 758.9 163.0 757.6C165.7 756.4 168.4 755.1 171.2 753.9C173.9 752.7 176.7 751.6 179.4 750.4C182.2 749.3 185.0 748.2 187.8 747.1C190.5 746.1 193.3 745.0 196.1 744.1C199.0 743.1 201.8 742.1 204.6 741.2C207.4 740.3 210.3 739.4 213.1 738.5C216.0 737.7 218.8 736.9 221.7 736.1C224.6 735.4 227.5 734.6 230.4 733.9C233.2 733.2 236.1 732.5 239.1 731.8C242.0 731.2 244.9 730.5 247.8 729.9C250.8 729.3 253.7 728.6 256.7 728.0C259.6 727.4 262.6 726.8 265.6 726.2C268.5 725.6 271.5 725.0 274.5 724.3C277.5 723.7 280.5 723.1 283.5 722.5C286.5 721.9 289.5 721.3 292.5 720.8C295.5 720.2 298.6 719.6 301.6 719.1C304.6 718.5 307.7 718.0 310.7 717.5C313.7 717.0 316.8 716.5 319.8 716.0C322.8 715.6 325.9 715.1 328.9 714.7C331.9 714.3 335.0 713.9 338.0 713.6C341.0 713.3 344.1 712.9 347.1 712.7C350.1 712.4 353.1 712.2 356.2 712.0C359.2 711.8 362.2 711.6 365.2 711.5C368.2 711.4 371.2 711.3 374.2 711.3C377.2 711.3 380.2 711.3 383.1 711.4C386.1 711.5 389.1 711.7 392.0 711.9C395.0 712.1 397.9 712.3 400.9 712.7C403.8 713.0 406.7 713.4 409.6 713.8C412.5 714.3 415.4 714.8 418.3 715.4C421.2 716.0 424.0 716.7 426.9 717.4C429.7 718.1 432.5 718.9 435.3 719.8C438.1 720.7 440.9 721.7 443.7 722.7C446.5 723.8 449.2 724.9 451.9 726.1C454.7 727.3 457.4 728.5 460.1 729.9C462.7 731.2 465.4 732.6 468.0 734.0C470.6 735.5 473.2 737.0 475.8 738.6C478.4 740.2 480.9 741.8 483.4 743.5C485.9 745.2 488.4 747.0 490.8 748.8C493.3 750.6 495.7 752.5 498.1 754.4C500.4 756.3 502.8 758.3 505.1 760.3C507.4 762.3 509.6 764.4 511.9 766.5C514.1 768.6 516.3 770.7 518.4 772.9C520.5 775.1 522.6 777.3 524.7 779.6C526.7 781.9 528.7 784.2 530.7 786.5C532.7 788.8 534.6 791.2 536.5 793.6C538.3 796.0 540.2 798.4 542.0 800.8C543.8 803.3 545.5 805.8 547.3 808.3C549.0 810.7 550.7 813.3 552.3 815.8C554.0 818.3 555.6 820.9 557.2 823.5C558.8 826.0 560.3 828.6 561.9 831.2C563.4 833.8 564.9 836.4 566.3 839.1C567.8 841.7 569.2 844.3 570.6 847.0C572.0 849.7 573.4 852.3 574.8 855.0C576.1 857.7 577.4 860.4 578.7 863.1C580.0 865.8 581.3 868.5 582.5 871.3C583.7 874.0 584.9 876.7 586.1 879.5C587.3 882.2 588.5 885.0 589.6 887.8C590.8 890.6 591.9 893.3 593.0 896.1C594.1 898.9 595.1 901.7 596.2 904.6C597.2 907.4 598.2 910.2 599.3 913.0C600.3 915.8 601.2 918.7 602.2 921.5C603.2 924.4 604.1 927.2 605.1 930.1C606.0 933.0 606.9 935.8 607.8 938.7C608.7 941.6 609.5 944.5 610.4 947.4C611.3 950.2 612.1 953.1 612.9 956.0C613.8 958.9 614.6 961.8 615.4 964.8C616.2 967.7 617.0 970.6 617.7 973.5C618.5 976.4 619.3 979.3 620.0 982.3C620.8 985.2 621.5 988.1 622.2 991.1C622.9 994.0 623.7 996.9 624.4 999.9C625.1 1002.8 625.8 1005.8 626.4 1008.7C627.1 1011.6 627.8 1014.6 628.5 1017.5C629.1 1020.5 629.8 1023.4 630.5 1026.4C631.1 1029.3 631.8 1032.3 632.4 1035.2C633.1 1038.1 633.7 1041.1 634.3 1044.0C635.0 1047.0 635.6 1049.9 636.2 1052.9C636.9 1055.8 637.8 1060.2 638.1 1061.7" stroke="#0000ff" stroke-width="1.85"/>
<path d="M100.0 796.3C101.3 795.5 105.2 792.9 107.8 791.3C110.4 789.7 113.1 788.0 115.7 786.5C118.3 784.9 120.9 783.3 123.5 781.8C126.2 780.3 128.8 778.8 131.4 777.3C134.1 775.8 136.7 774.3 139.3 772.9C142.0 771.4 144.6 770.0 147.3 768.6C149.9 767.2 152.6 765.8 155.2 764.5C157.9 763.1 160.5 761.7 163.2 760.4C165.9 759.1 168.5 757.7 171.2 756.4C173.9 755.1 176.6 753.8 179.2 752.5C181.9 751.2 184.6 750.0 187.3 748.7C190.0 747.4 192.7 746.2 195.4 744.9C198.1 743.6 200.8 742.4 203.5 741.2C206.2 739.9 209.0 738.7 211.7 737.4C214.4 736.2 217.1 735.0 219.9 733.7C222.6 732.5 225.4 731.3 228.1 730.0C230.9 728.8 233.6 727.5 236.4 726.3C239.1 725.1 241.9 723.8 244.7 722.6C247.5 721.4 250.3 720.2 253.1 719.0C255.9 717.8 258.7 716.7 261.5 715.5C264.3 714.4 267.1 713.3 270.0 712.2C272.8 711.1 275.7 710.0 278.5 709.0C281.4 708.0 284.3 707.0 287.2 706.1C290.1 705.2 293.0 704.3 295.9 703.4C298.8 702.6 301.7 701.8 304.7 701.0C307.6 700.3 310.6 699.6 313.5 699.0C316.5 698.3 319.5 697.7 322.5 697.2C325.5 696.7 328.5 696.2 331.5 695.7C334.5 695.3 337.5 694.9 340.5 694.6C343.5 694.3 346.5 694.1 349.5 693.9C352.5 693.7 355.6 693.5 358.6 693.5C361.6 693.4 364.6 693.4 367.7 693.4C370.7 693.5 373.7 693.6 376.7 693.7C379.8 693.9 382.8 694.1 385.8 694.4C388.8 694.6 391.9 694.9 394.9 695.3C397.9 695.7 400.9 696.1 403.9 696.5C406.9 696.9 409.9 697.4 412.9 697.9C415.8 698.5 418.8 699.0 421.8 699.6C424.8 700.2 427.7 700.8 430.7 701.5C433.6 702.1 436.5 702.8 439.5 703.6C442.4 704.3 445.3 705.1 448.2 705.9C451.1 706.8 454.0 707.6 456.8 708.5C459.7 709.4 462.5 710.4 465.4 711.4C468.2 712.4 471.0 713.4 473.8 714.5C476.6 715.6 479.4 716.7 482.1 717.9C484.9 719.1 487.6 720.3 490.3 721.6C493.0 722.9 495.7 724.2 498.3 725.6C501.0 727.0 503.6 728.4 506.2 729.9C508.8 731.4 511.4 732.9 514.0 734.5C516.5 736.1 519.1 737.7 521.6 739.4C524.1 741.0 526.5 742.7 529.0 744.5C531.4 746.2 533.9 748.0 536.3 749.9C538.6 751.7 541.0 753.6 543.3 755.5C545.7 757.4 548.0 759.4 550.3 761.4C552.5 763.4 554.8 765.4 557.0 767.5C559.2 769.6 561.4 771.7 563.6 773.8C565.7 775.9 567.8 778.1 569.9 780.3C572.0 782.5 574.1 784.7 576.1 787.0C578.1 789.3 580.1 791.6 582.1 793.9C584.0 796.2 585.9 798.5 587.8 800.9C589.7 803.3 591.6 805.7 593.4 808.1C595.2 810.5 597.0 813.0 598.7 815.5C600.5 817.9 602.2 820.4 603.9 822.9C605.5 825.4 607.2 828.0 608.8 830.5C610.4 833.1 611.9 835.7 613.5 838.2C615.0 840.8 616.5 843.4 618.0 846.1C619.5 848.7 620.9 851.3 622.3 854.0C623.7 856.7 625.1 859.4 626.4 862.0C627.8 864.7 629.1 867.5 630.4 870.2C631.7 872.9 632.9 875.7 634.1 878.4C635.4 881.2 636.6 883.9 637.7 886.7C638.9 889.5 640.1 892.3 641.2 895.1C642.3 897.9 643.4 900.7 644.5 903.6C645.5 906.4 646.6 909.2 647.6 912.1C648.6 914.9 649.6 917.8 650.6 920.7C651.6 923.5 652.5 926.4 653.4 929.3C654.4 932.2 655.3 935.1 656.2 938.0C657.0 940.9 657.9 943.8 658.8 946.7C659.6 949.7 660.4 952.6 661.2 955.5C662.1 958.5 662.8 961.4 663.6 964.3C664.4 967.3 665.1 970.2 665.9 973.2C666.6 976.1 667.3 979.1 668.1 982.0C668.8 985.0 669.5 987.9 670.1 990.9C670.8 993.8 671.5 996.8 672.1 999.8C672.8 1002.7 673.4 1005.7 674.1 1008.7C674.7 1011.6 675.3 1014.6 675.9 1017.5C676.5 1020.5 677.1 1023.4 677.7 1026.4C678.3 1029.4 678.8 1032.3 679.4 1035.3C680.0 1038.2 680.5 1041.2 681.1 1044.1C681.6 1047.0 682.2 1050.0 682.7 1052.9C683.2 1055.8 684.0 1060.2 684.3 1061.7" stroke="#0000ff" stroke-width="1.85"/>
<path d="M100.0 791.4C101.3 790.7 105.3 788.5 107.9 787.0C110.6 785.5 113.2 784.0 115.8 782.5C118.4 781.0 121.0 779.4 123.6 777.9C126.2 776.3 128.8 774.7 131.4 773.1C133.9 771.6 136.5 770.0 139.1 768.4C141.6 766.8 144.2 765.1 146.8 763.5C149.4 761.9 151.9 760.3 154.5 758.7C157.1 757.1 159.6 755.5 162.2 753.9C164.8 752.3 167.4 750.7 170.0 749.1C172.6 747.5 175.2 746.0 177.8 744.4C180.4 742.8 183.1 741.3 185.7 739.8C188.3 738.3 191.0 736.8 193.7 735.3C196.4 733.8 199.0 732.4 201.8 731.0C204.5 729.6 207.2 728.2 210.0 726.8C212.7 725.5 215.5 724.2 218.3 722.9C221.1 721.6 223.9 720.4 226.7 719.2C229.5 718.0 232.4 716.8 235.2 715.7C238.1 714.6 241.0 713.5 243.9 712.6C246.8 711.6 249.7 710.6 252.7 709.8C255.6 708.9 258.5 708.2 261.5 707.5C264.4 706.8 267.4 706.2 270.4 705.7C273.3 705.3 276.3 704.9 279.3 704.6C282.2 704.4 285.2 704.2 288.2 704.2C291.1 704.3 294.1 704.4 297.0 704.7C300.0 704.9 302.9 705.3 305.9 705.8C308.8 706.3 311.7 706.9 314.6 707.7C317.5 708.4 320.4 709.2 323.3 710.1C326.1 711.0 329.0 712.0 331.8 713.1C334.6 714.2 337.4 715.3 340.2 716.5C343.0 717.8 345.7 719.0 348.4 720.4C351.2 721.7 353.8 723.1 356.5 724.6C359.2 726.0 361.8 727.5 364.4 729.1C367.0 730.7 369.6 732.3 372.2 733.9C374.7 735.5 377.3 737.2 379.8 739.0C382.3 740.7 384.8 742.4 387.3 744.2C389.8 746.0 392.2 747.9 394.7 749.7C397.1 751.6 399.5 753.4 402.0 755.3C404.4 757.3 406.8 759.2 409.2 761.1C411.5 763.1 413.9 765.0 416.3 767.0C418.7 769.0 421.0 770.9 423.4 772.9C425.7 774.9 428.1 776.9 430.4 778.9C432.7 780.9 435.1 782.9 437.4 784.9C439.7 786.9 442.0 788.9 444.3 790.9C446.6 792.9 448.9 794.9 451.2 796.9C453.5 799.0 455.8 801.0 458.0 803.0C460.3 805.1 462.6 807.1 464.8 809.2C467.0 811.2 469.2 813.3 471.4 815.3C473.6 817.4 475.8 819.5 477.9 821.6C480.1 823.7 482.2 825.9 484.3 828.0C486.4 830.2 488.5 832.3 490.6 834.5C492.6 836.7 494.7 838.9 496.7 841.1C498.7 843.4 500.7 845.6 502.6 847.9C504.5 850.2 506.4 852.5 508.3 854.8C510.2 857.1 512.0 859.5 513.9 861.9C515.7 864.3 517.4 866.7 519.2 869.2C520.9 871.6 522.6 874.1 524.3 876.6C526.0 879.1 527.6 881.6 529.2 884.2C530.8 886.7 532.4 889.3 534.0 891.9C535.5 894.5 537.0 897.1 538.5 899.7C540.0 902.4 541.5 905.0 542.9 907.7C544.4 910.4 545.8 913.1 547.1 915.8C548.5 918.5 549.9 921.3 551.2 924.0C552.5 926.8 553.8 929.5 555.1 932.3C556.4 935.1 557.6 937.9 558.8 940.7C560.1 943.5 561.3 946.3 562.4 949.1C563.6 952.0 564.8 954.8 565.9 957.7C567.0 960.5 568.1 963.4 569.2 966.2C570.3 969.1 571.4 972.0 572.4 974.9C573.5 977.8 574.5 980.7 575.5 983.5C576.5 986.4 577.5 989.3 578.5 992.2C579.5 995.1 580.4 998.0 581.4 1001.0C582.3 1003.9 583.3 1006.8 584.2 1009.7C585.1 1012.6 586.0 1015.5 586.9 1018.4C587.7 1021.3 588.6 1024.2 589.5 1027.1C590.3 1030.0 591.2 1032.9 592.0 1035.8C592.9 1038.7 593.7 1041.6 594.5 1044.5C595.3 1047.4 596.1 1050.2 596.9 1053.1C597.7 1056.0 598.9 1060.3 599.3 1061.7" stroke="#0000ff" stroke-width="1.85" stroke-dasharray="10.7 10"/>
<path d="M100.0 806.3C101.2 805.4 104.8 802.7 107.3 800.9C109.7 799.2 112.2 797.4 114.6 795.7C117.1 794.0 119.6 792.3 122.1 790.6C124.5 788.9 127.1 787.2 129.6 785.6C132.1 783.9 134.6 782.3 137.1 780.7C139.7 779.1 142.2 777.5 144.8 775.9C147.3 774.3 149.9 772.7 152.5 771.2C155.0 769.7 157.6 768.1 160.2 766.6C162.8 765.1 165.4 763.6 168.0 762.1C170.6 760.6 173.2 759.1 175.9 757.6C178.5 756.2 181.1 754.7 183.7 753.2C186.4 751.8 189.0 750.3 191.6 748.9C194.3 747.5 196.9 746.1 199.6 744.6C202.2 743.2 204.9 741.8 207.5 740.4C210.2 739.0 212.8 737.6 215.5 736.2C218.2 734.8 220.8 733.4 223.5 732.0C226.2 730.6 228.8 729.3 231.5 727.9C234.2 726.5 236.8 725.1 239.5 723.7C242.2 722.4 244.8 721.0 247.5 719.6C250.2 718.2 252.8 716.9 255.5 715.5C258.1 714.1 260.8 712.7 263.5 711.4C266.1 710.0 268.8 708.6 271.5 707.3C274.1 705.9 276.8 704.6 279.5 703.2C282.2 701.9 284.8 700.5 287.5 699.2C290.2 697.9 292.9 696.6 295.6 695.3C298.3 693.9 301.0 692.6 303.7 691.4C306.4 690.1 309.1 688.8 311.8 687.5C314.5 686.3 317.3 685.0 320.0 683.8C322.7 682.6 325.5 681.3 328.2 680.1C331.0 678.9 333.7 677.8 336.5 676.6C339.3 675.4 342.1 674.3 344.8 673.2C347.6 672.0 350.4 670.9 353.3 669.8C356.1 668.8 358.9 667.7 361.7 666.7C364.6 665.6 367.4 664.6 370.3 663.6C373.2 662.6 376.1 661.7 379.0 660.7C381.8 659.8 384.7 658.9 387.7 658.0C390.6 657.2 393.5 656.3 396.4 655.5C399.4 654.7 402.3 654.0 405.2 653.2C408.2 652.5 411.2 651.8 414.1 651.2C417.1 650.5 420.1 649.9 423.0 649.4C426.0 648.8 429.0 648.3 432.0 647.8C435.0 647.3 438.0 646.9 441.0 646.5C443.9 646.2 446.9 645.8 449.9 645.6C452.9 645.3 455.9 645.1 459.0 644.9C462.0 644.8 465.0 644.7 468.0 644.6C471.0 644.6 474.0 644.6 477.0 644.7C480.0 644.8 483.0 644.9 486.0 645.1C489.0 645.3 492.0 645.6 495.0 646.0C498.0 646.3 500.9 646.7 503.9 647.2C506.8 647.7 509.8 648.2 512.7 648.9C515.6 649.5 518.5 650.2 521.3 651.0C524.2 651.8 527.0 652.6 529.8 653.6C532.6 654.5 535.4 655.5 538.1 656.6C540.8 657.7 543.5 658.9 546.1 660.2C548.8 661.5 551.4 662.8 553.9 664.3C556.4 665.7 558.9 667.3 561.3 668.9C563.8 670.5 566.1 672.2 568.5 674.0C570.8 675.8 573.0 677.7 575.3 679.6C577.5 681.6 579.6 683.6 581.8 685.7C583.9 687.8 586.0 689.9 588.0 692.1C590.0 694.3 592.0 696.6 593.9 698.9C595.9 701.2 597.8 703.6 599.6 706.0C601.5 708.4 603.3 710.9 605.0 713.3C606.8 715.8 608.6 718.3 610.2 720.9C611.9 723.4 613.6 726.0 615.2 728.6C616.8 731.1 618.4 733.8 620.0 736.4C621.5 739.0 623.1 741.6 624.5 744.3C626.0 746.9 627.5 749.6 628.9 752.3C630.4 755.0 631.8 757.6 633.1 760.4C634.5 763.1 635.8 765.8 637.2 768.5C638.5 771.2 639.8 774.0 641.1 776.7C642.3 779.5 643.6 782.2 644.8 785.0C646.0 787.7 647.3 790.5 648.4 793.3C649.6 796.1 650.8 798.9 652.0 801.6C653.1 804.4 654.3 807.2 655.4 810.0C656.5 812.8 657.6 815.6 658.7 818.4C659.8 821.2 660.9 824.1 662.0 826.9C663.1 829.7 664.1 832.5 665.2 835.3C666.2 838.1 667.3 840.9 668.3 843.8C669.3 846.6 670.3 849.4 671.3 852.2C672.3 855.1 673.3 857.9 674.3 860.7C675.3 863.6 676.2 866.4 677.2 869.2C678.1 872.1 679.1 874.9 680.0 877.8C680.9 880.6 681.8 883.5 682.8 886.3C683.7 889.2 684.5 892.0 685.4 894.9C686.3 897.7 687.2 900.6 688.0 903.4C688.9 906.3 689.7 909.2 690.6 912.1C691.4 914.9 692.2 917.8 693.0 920.7C693.8 923.6 694.6 926.4 695.4 929.3C696.2 932.2 697.0 935.1 697.7 938.0C698.5 940.9 699.2 943.8 700.0 946.7C700.7 949.6 701.4 952.5 702.1 955.4C702.9 958.3 703.6 961.2 704.2 964.1C704.9 967.0 705.6 969.9 706.3 972.9C706.9 975.8 707.6 978.7 708.2 981.6C708.9 984.6 709.5 987.5 710.1 990.4C710.7 993.4 711.3 996.3 711.9 999.2C712.5 1002.2 713.1 1005.1 713.7 1008.1C714.3 1011.0 714.8 1014.0 715.4 1017.0C715.9 1019.9 716.4 1022.9 717.0 1025.9C717.5 1028.8 718.0 1031.8 718.5 1034.8C719.0 1037.8 719.5 1040.7 720.0 1043.7C720.5 1046.7 720.9 1049.7 721.4 1052.7C721.8 1055.7 722.5 1060.2 722.7 1061.7" stroke="#000" stroke-width="2.9" stroke-dasharray="15.4 4.95 3 4.95 3 4.95 3 4.95"/>
<path d="M512.4 604.7L512.4 1061.7" stroke="#ff0000" stroke-width="2.4" stroke-dasharray="11 4.4 3.5 4.4" stroke-dashoffset="20.5"/>
</g>
</g>
<g fill="none" stroke-linecap="square">
<rect x="100.0" y="33.0" width="690.0" height="457.2" fill="none" stroke="#000" stroke-width="1.55"/>
<rect x="100.0" y="604.7" width="690.0" height="457.0" fill="none" stroke="#000" stroke-width="1.55"/>
<path d="M169.24 490.20L169.24 485.60M169.24 33.00L169.24 37.60M209.74 490.20L209.74 485.60M209.74 33.00L209.74 37.60M238.47 490.20L238.47 485.60M238.47 33.00L238.47 37.60M260.76 490.20L260.76 485.60M260.76 33.00L260.76 37.60M278.97 490.20L278.97 485.60M278.97 33.00L278.97 37.60M294.37 490.20L294.37 485.60M294.37 33.00L294.37 37.60M307.71 490.20L307.71 485.60M307.71 33.00L307.71 37.60M319.48 490.20L319.48 485.60M319.48 33.00L319.48 37.60M330.00 490.20L330.00 481.10M330.00 33.00L330.00 42.10M399.24 490.20L399.24 485.60M399.24 33.00L399.24 37.60M439.74 490.20L439.74 485.60M439.74 33.00L439.74 37.60M468.47 490.20L468.47 485.60M468.47 33.00L468.47 37.60M490.76 490.20L490.76 485.60M490.76 33.00L490.76 37.60M508.97 490.20L508.97 485.60M508.97 33.00L508.97 37.60M524.37 490.20L524.37 485.60M524.37 33.00L524.37 37.60M537.71 490.20L537.71 485.60M537.71 33.00L537.71 37.60M549.48 490.20L549.48 485.60M549.48 33.00L549.48 37.60M560.00 490.20L560.00 481.10M560.00 33.00L560.00 42.10M629.24 490.20L629.24 485.60M629.24 33.00L629.24 37.60M669.74 490.20L669.74 485.60M669.74 33.00L669.74 37.60M698.47 490.20L698.47 485.60M698.47 33.00L698.47 37.60M720.76 490.20L720.76 485.60M720.76 33.00L720.76 37.60M738.97 490.20L738.97 485.60M738.97 33.00L738.97 37.60M754.37 490.20L754.37 485.60M754.37 33.00L754.37 37.60M767.71 490.20L767.71 485.60M767.71 33.00L767.71 37.60M779.48 490.20L779.48 485.60M779.48 33.00L779.48 37.60M100.00 96.91L106.90 96.91M790.00 96.91L783.10 96.91M100.00 80.81L106.90 80.81M790.00 80.81L783.10 80.81M100.00 69.39L106.90 69.39M790.00 69.39L783.10 69.39M100.00 60.53L106.90 60.53M790.00 60.53L783.10 60.53M100.00 53.29L106.90 53.29M790.00 53.29L783.10 53.29M100.00 47.16L106.90 47.16M790.00 47.16L783.10 47.16M100.00 41.86L106.90 41.86M790.00 41.86L783.10 41.86M100.00 37.18L106.90 37.18M790.00 37.18L783.10 37.18M100.00 124.44L113.80 124.44M790.00 124.44L776.20 124.44M100.00 188.35L106.90 188.35M790.00 188.35L783.10 188.35M100.00 172.25L106.90 172.25M790.00 172.25L783.10 172.25M100.00 160.83L106.90 160.83M790.00 160.83L783.10 160.83M100.00 151.97L106.90 151.97M790.00 151.97L783.10 151.97M100.00 144.73L106.90 144.73M790.00 144.73L783.10 144.73M100.00 138.60L106.90 138.60M790.00 138.60L783.10 138.60M100.00 133.30L106.90 133.30M790.00 133.30L783.10 133.30M100.00 128.62L106.90 128.62M790.00 128.62L783.10 128.62M100.00 215.88L113.80 215.88M790.00 215.88L776.20 215.88M100.00 279.79L106.90 279.79M790.00 279.79L783.10 279.79M100.00 263.69L106.90 263.69M790.00 263.69L783.10 263.69M100.00 252.27L106.90 252.27M790.00 252.27L783.10 252.27M100.00 243.41L106.90 243.41M790.00 243.41L783.10 243.41M100.00 236.17L106.90 236.17M790.00 236.17L783.10 236.17M100.00 230.04L106.90 230.04M790.00 230.04L783.10 230.04M100.00 224.74L106.90 224.74M790.00 224.74L783.10 224.74M100.00 220.06L106.90 220.06M790.00 220.06L783.10 220.06M100.00 307.32L113.80 307.32M790.00 307.32L776.20 307.32M100.00 371.23L106.90 371.23M790.00 371.23L783.10 371.23M100.00 355.13L106.90 355.13M790.00 355.13L783.10 355.13M100.00 343.71L106.90 343.71M790.00 343.71L783.10 343.71M100.00 334.85L106.90 334.85M790.00 334.85L783.10 334.85M100.00 327.61L106.90 327.61M790.00 327.61L783.10 327.61M100.00 321.48L106.90 321.48M790.00 321.48L783.10 321.48M100.00 316.18L106.90 316.18M790.00 316.18L783.10 316.18M100.00 311.50L106.90 311.50M790.00 311.50L783.10 311.50M100.00 398.76L113.80 398.76M790.00 398.76L776.20 398.76M100.00 462.67L106.90 462.67M790.00 462.67L783.10 462.67M100.00 446.57L106.90 446.57M790.00 446.57L783.10 446.57M100.00 435.15L106.90 435.15M790.00 435.15L783.10 435.15M100.00 426.29L106.90 426.29M790.00 426.29L783.10 426.29M100.00 419.05L106.90 419.05M790.00 419.05L783.10 419.05M100.00 412.92L106.90 412.92M790.00 412.92L783.10 412.92M100.00 407.62L106.90 407.62M790.00 407.62L783.10 407.62M100.00 402.94L106.90 402.94M790.00 402.94L783.10 402.94M143.70 1061.70L143.70 1052.60M143.70 604.70L143.70 613.80M258.70 1061.70L258.70 1052.60M258.70 604.70L258.70 613.80M373.70 1061.70L373.70 1052.60M373.70 604.70L373.70 613.80M488.70 1061.70L488.70 1052.60M488.70 604.70L488.70 613.80M603.70 1061.70L603.70 1052.60M603.70 604.70L603.70 613.80M718.70 1061.70L718.70 1052.60M718.70 604.70L718.70 613.80M100.00 675.20L113.80 675.20M790.00 675.20L776.20 675.20M100.00 749.25L113.80 749.25M790.00 749.25L776.20 749.25M100.00 823.30L113.80 823.30M790.00 823.30L776.20 823.30M100.00 897.35L113.80 897.35M790.00 897.35L776.20 897.35M100.00 971.40L113.80 971.40M790.00 971.40L776.20 971.40M100.00 1045.45L113.80 1045.45M790.00 1045.45L776.20 1045.45" stroke="#000" stroke-width="1.45" stroke-linecap="butt"/>
</g>
<g fill="none" stroke-linecap="round" stroke-linejoin="round">
<g transform="translate(224.10,20.20) rotate(0)" stroke="#000"><use href="#g0" transform="translate(0.00,0.00) scale(0.9075)" stroke-width="1.60"/><use href="#g1" transform="translate(19.96,0.00) scale(0.9075)" stroke-width="1.60"/><use href="#g2" transform="translate(38.11,0.00) scale(0.9075)" stroke-width="1.60"/><use href="#g3" transform="translate(53.54,0.00) scale(0.9075)" stroke-width="1.60"/><use href="#g4" transform="translate(67.16,0.00) scale(0.9075)" stroke-width="1.60"/><use href="#g5" transform="translate(77.14,0.00) scale(0.9075)" stroke-width="1.60"/><use href="#g6" transform="translate(94.38,0.00) scale(0.9075)" stroke-width="1.60"/><use href="#g7" transform="translate(104.36,0.00) scale(0.9075)" stroke-width="1.60"/><use href="#g7" transform="translate(136.12,0.00) scale(0.9075)" stroke-width="1.60"/><use href="#g8" transform="translate(153.37,0.00) scale(0.9075)" stroke-width="1.60"/><use href="#g7" transform="translate(173.33,0.00) scale(0.9075)" stroke-width="1.60"/><use href="#g2" transform="translate(190.58,0.00) scale(0.9075)" stroke-width="1.60"/><use href="#g9" transform="translate(206.00,0.00) scale(0.9075)" stroke-width="1.60"/><use href="#g10" transform="translate(223.25,0.00) scale(0.9075)" stroke-width="1.60"/><use href="#g11" transform="translate(255.01,0.00) scale(0.9075)" stroke-width="1.60"/><use href="#g4" transform="translate(274.07,0.00) scale(0.9075)" stroke-width="1.60"/><use href="#g12" transform="translate(284.05,0.00) scale(0.9075)" stroke-width="1.60"/><use href="#g3" transform="translate(299.48,0.00) scale(0.9075)" stroke-width="1.60"/><use href="#g2" transform="translate(313.09,0.00) scale(0.9075)" stroke-width="1.60"/><use href="#g4" transform="translate(328.52,0.00) scale(0.9075)" stroke-width="1.60"/><use href="#g13" transform="translate(338.50,0.00) scale(0.9075)" stroke-width="1.60"/><use href="#g14" transform="translate(357.56,0.00) scale(0.9075)" stroke-width="1.60"/><use href="#g3" transform="translate(377.52,0.00) scale(0.9075)" stroke-width="1.60"/><use href="#g4" transform="translate(391.13,0.00) scale(0.9075)" stroke-width="1.60"/><use href="#g15" transform="translate(401.12,0.00) scale(0.9075)" stroke-width="1.60"/><use href="#g8" transform="translate(419.27,0.00) scale(0.9075)" stroke-width="1.60"/></g>
<g transform="translate(219.70,591.40) rotate(0)" stroke="#000"><use href="#g16" transform="translate(0.00,0.00) scale(0.9075)" stroke-width="1.60"/><use href="#g17" transform="translate(18.15,0.00) scale(0.9075)" stroke-width="1.60"/><use href="#g7" transform="translate(37.21,0.00) scale(0.9075)" stroke-width="1.60"/><use href="#g5" transform="translate(54.45,0.00) scale(0.9075)" stroke-width="1.60"/><use href="#g3" transform="translate(71.69,0.00) scale(0.9075)" stroke-width="1.60"/><use href="#g2" transform="translate(85.30,0.00) scale(0.9075)" stroke-width="1.60"/><use href="#g1" transform="translate(100.73,0.00) scale(0.9075)" stroke-width="1.60"/><use href="#g6" transform="translate(118.88,0.00) scale(0.9075)" stroke-width="1.60"/><use href="#g7" transform="translate(143.38,0.00) scale(0.9075)" stroke-width="1.60"/><use href="#g8" transform="translate(160.63,0.00) scale(0.9075)" stroke-width="1.60"/><use href="#g7" transform="translate(180.59,0.00) scale(0.9075)" stroke-width="1.60"/><use href="#g2" transform="translate(197.84,0.00) scale(0.9075)" stroke-width="1.60"/><use href="#g9" transform="translate(213.26,0.00) scale(0.9075)" stroke-width="1.60"/><use href="#g10" transform="translate(230.51,0.00) scale(0.9075)" stroke-width="1.60"/><use href="#g11" transform="translate(262.27,0.00) scale(0.9075)" stroke-width="1.60"/><use href="#g4" transform="translate(281.33,0.00) scale(0.9075)" stroke-width="1.60"/><use href="#g12" transform="translate(291.31,0.00) scale(0.9075)" stroke-width="1.60"/><use href="#g3" transform="translate(306.74,0.00) scale(0.9075)" stroke-width="1.60"/><use href="#g2" transform="translate(320.35,0.00) scale(0.9075)" stroke-width="1.60"/><use href="#g4" transform="translate(335.78,0.00) scale(0.9075)" stroke-width="1.60"/><use href="#g13" transform="translate(345.76,0.00) scale(0.9075)" stroke-width="1.60"/><use href="#g14" transform="translate(364.82,0.00) scale(0.9075)" stroke-width="1.60"/><use href="#g3" transform="translate(384.78,0.00) scale(0.9075)" stroke-width="1.60"/><use href="#g4" transform="translate(398.39,0.00) scale(0.9075)" stroke-width="1.60"/><use href="#g15" transform="translate(408.38,0.00) scale(0.9075)" stroke-width="1.60"/><use href="#g8" transform="translate(426.53,0.00) scale(0.9075)" stroke-width="1.60"/></g>
<g transform="translate(45.30,48.80) rotate(0)" stroke="#000"><use href="#g18" transform="translate(0.00,0.00) scale(0.726)" stroke-width="2.00"/><use href="#g19" transform="translate(14.52,0.00) scale(0.726)" stroke-width="2.00"/><use href="#g20" transform="translate(29.04,-11.30) scale(0.44)" stroke-width="3.30"/><use href="#g18" transform="translate(37.84,-11.30) scale(0.44)" stroke-width="3.30"/></g>
<g transform="translate(45.30,133.85) rotate(0)" stroke="#000"><use href="#g18" transform="translate(0.00,0.00) scale(0.726)" stroke-width="2.00"/><use href="#g19" transform="translate(14.52,0.00) scale(0.726)" stroke-width="2.00"/><use href="#g20" transform="translate(29.04,-11.30) scale(0.44)" stroke-width="3.30"/><use href="#g19" transform="translate(37.84,-11.30) scale(0.44)" stroke-width="3.30"/></g>
<g transform="translate(45.30,225.20) rotate(0)" stroke="#000"><use href="#g18" transform="translate(0.00,0.00) scale(0.726)" stroke-width="2.00"/><use href="#g19" transform="translate(14.52,0.00) scale(0.726)" stroke-width="2.00"/><use href="#g21" transform="translate(29.04,-11.30) scale(0.44)" stroke-width="3.30"/><use href="#g22" transform="translate(37.84,-11.30) scale(0.44)" stroke-width="3.30"/></g>
<g transform="translate(45.30,316.60) rotate(0)" stroke="#000"><use href="#g18" transform="translate(0.00,0.00) scale(0.726)" stroke-width="2.00"/><use href="#g19" transform="translate(14.52,0.00) scale(0.726)" stroke-width="2.00"/><use href="#g21" transform="translate(29.04,-11.30) scale(0.44)" stroke-width="3.30"/><use href="#g23" transform="translate(37.84,-11.30) scale(0.44)" stroke-width="3.30"/></g>
<g transform="translate(45.30,408.00) rotate(0)" stroke="#000"><use href="#g18" transform="translate(0.00,0.00) scale(0.726)" stroke-width="2.00"/><use href="#g19" transform="translate(14.52,0.00) scale(0.726)" stroke-width="2.00"/><use href="#g21" transform="translate(29.04,-11.30) scale(0.44)" stroke-width="3.30"/><use href="#g24" transform="translate(37.84,-11.30) scale(0.44)" stroke-width="3.30"/></g>
<g transform="translate(45.30,490.80) rotate(0)" stroke="#000"><use href="#g18" transform="translate(0.00,0.00) scale(0.726)" stroke-width="2.00"/><use href="#g19" transform="translate(14.52,0.00) scale(0.726)" stroke-width="2.00"/><use href="#g21" transform="translate(29.04,-11.30) scale(0.44)" stroke-width="3.30"/><use href="#g25" transform="translate(37.84,-11.30) scale(0.44)" stroke-width="3.30"/></g>
<g transform="translate(99.10,523.50) rotate(0)" stroke="#000"><use href="#g18" transform="translate(-18.92,0.00) scale(0.726)" stroke-width="2.00"/><use href="#g19" transform="translate(-4.40,0.00) scale(0.726)" stroke-width="2.00"/><use href="#g24" transform="translate(10.12,-11.30) scale(0.44)" stroke-width="3.30"/></g>
<g transform="translate(329.10,523.50) rotate(0)" stroke="#000"><use href="#g18" transform="translate(-18.92,0.00) scale(0.726)" stroke-width="2.00"/><use href="#g19" transform="translate(-4.40,0.00) scale(0.726)" stroke-width="2.00"/><use href="#g23" transform="translate(10.12,-11.30) scale(0.44)" stroke-width="3.30"/></g>
<g transform="translate(559.10,523.50) rotate(0)" stroke="#000"><use href="#g18" transform="translate(-18.92,0.00) scale(0.726)" stroke-width="2.00"/><use href="#g19" transform="translate(-4.40,0.00) scale(0.726)" stroke-width="2.00"/><use href="#g22" transform="translate(10.12,-11.30) scale(0.44)" stroke-width="3.30"/></g>
<g transform="translate(789.10,523.50) rotate(0)" stroke="#000"><use href="#g18" transform="translate(-23.32,0.00) scale(0.726)" stroke-width="2.00"/><use href="#g19" transform="translate(-8.80,0.00) scale(0.726)" stroke-width="2.00"/><use href="#g18" transform="translate(5.72,-11.30) scale(0.44)" stroke-width="3.30"/><use href="#g19" transform="translate(14.52,-11.30) scale(0.44)" stroke-width="3.30"/></g>
<g transform="translate(45.30,684.30) rotate(0)" stroke="#000"><use href="#g18" transform="translate(0.00,0.00) scale(0.726)" stroke-width="2.00"/><use href="#g19" transform="translate(14.52,0.00) scale(0.726)" stroke-width="2.00"/><use href="#g18" transform="translate(29.04,-11.30) scale(0.44)" stroke-width="3.30"/><use href="#g23" transform="translate(37.84,-11.30) scale(0.44)" stroke-width="3.30"/></g>
<g transform="translate(45.30,758.35) rotate(0)" stroke="#000"><use href="#g18" transform="translate(0.00,0.00) scale(0.726)" stroke-width="2.00"/><use href="#g19" transform="translate(14.52,0.00) scale(0.726)" stroke-width="2.00"/><use href="#g18" transform="translate(29.04,-11.30) scale(0.44)" stroke-width="3.30"/><use href="#g24" transform="translate(37.84,-11.30) scale(0.44)" stroke-width="3.30"/></g>
<g transform="translate(45.30,832.40) rotate(0)" stroke="#000"><use href="#g18" transform="translate(0.00,0.00) scale(0.726)" stroke-width="2.00"/><use href="#g19" transform="translate(14.52,0.00) scale(0.726)" stroke-width="2.00"/><use href="#g18" transform="translate(29.04,-11.30) scale(0.44)" stroke-width="3.30"/><use href="#g25" transform="translate(37.84,-11.30) scale(0.44)" stroke-width="3.30"/></g>
<g transform="translate(45.30,906.45) rotate(0)" stroke="#000"><use href="#g18" transform="translate(0.00,0.00) scale(0.726)" stroke-width="2.00"/><use href="#g19" transform="translate(14.52,0.00) scale(0.726)" stroke-width="2.00"/><use href="#g18" transform="translate(29.04,-11.30) scale(0.44)" stroke-width="3.30"/><use href="#g26" transform="translate(37.84,-11.30) scale(0.44)" stroke-width="3.30"/></g>
<g transform="translate(45.30,980.50) rotate(0)" stroke="#000"><use href="#g18" transform="translate(0.00,0.00) scale(0.726)" stroke-width="2.00"/><use href="#g19" transform="translate(14.52,0.00) scale(0.726)" stroke-width="2.00"/><use href="#g18" transform="translate(29.04,-11.30) scale(0.44)" stroke-width="3.30"/><use href="#g27" transform="translate(37.84,-11.30) scale(0.44)" stroke-width="3.30"/></g>
<g transform="translate(45.30,1054.55) rotate(0)" stroke="#000"><use href="#g18" transform="translate(0.00,0.00) scale(0.726)" stroke-width="2.00"/><use href="#g19" transform="translate(14.52,0.00) scale(0.726)" stroke-width="2.00"/><use href="#g18" transform="translate(29.04,-11.30) scale(0.44)" stroke-width="3.30"/><use href="#g20" transform="translate(37.84,-11.30) scale(0.44)" stroke-width="3.30"/></g>
<g transform="translate(142.80,1095.05) rotate(0)" stroke="#000"><use href="#g19" transform="translate(-18.15,0.00) scale(0.726)" stroke-width="2.00"/><use href="#g28" transform="translate(-3.63,0.00) scale(0.726)" stroke-width="2.00"/><use href="#g18" transform="translate(3.63,0.00) scale(0.726)" stroke-width="2.00"/></g>
<g transform="translate(257.80,1095.05) rotate(0)" stroke="#000"><use href="#g18" transform="translate(-18.15,0.00) scale(0.726)" stroke-width="2.00"/><use href="#g28" transform="translate(-3.63,0.00) scale(0.726)" stroke-width="2.00"/><use href="#g19" transform="translate(3.63,0.00) scale(0.726)" stroke-width="2.00"/></g>
<g transform="translate(372.80,1095.05) rotate(0)" stroke="#000"><use href="#g18" transform="translate(-25.41,0.00) scale(0.726)" stroke-width="2.00"/><use href="#g19" transform="translate(-10.89,0.00) scale(0.726)" stroke-width="2.00"/><use href="#g28" transform="translate(3.63,0.00) scale(0.726)" stroke-width="2.00"/><use href="#g19" transform="translate(10.89,0.00) scale(0.726)" stroke-width="2.00"/></g>
<g transform="translate(487.80,1095.05) rotate(0)" stroke="#000"><use href="#g18" transform="translate(-32.67,0.00) scale(0.726)" stroke-width="2.00"/><use href="#g19" transform="translate(-18.15,0.00) scale(0.726)" stroke-width="2.00"/><use href="#g19" transform="translate(-3.63,0.00) scale(0.726)" stroke-width="2.00"/><use href="#g28" transform="translate(10.89,0.00) scale(0.726)" stroke-width="2.00"/><use href="#g19" transform="translate(18.15,0.00) scale(0.726)" stroke-width="2.00"/></g>
<g transform="translate(602.80,1095.05) rotate(0)" stroke="#000"><use href="#g18" transform="translate(-39.93,0.00) scale(0.726)" stroke-width="2.00"/><use href="#g19" transform="translate(-25.41,0.00) scale(0.726)" stroke-width="2.00"/><use href="#g19" transform="translate(-10.89,0.00) scale(0.726)" stroke-width="2.00"/><use href="#g19" transform="translate(3.63,0.00) scale(0.726)" stroke-width="2.00"/><use href="#g28" transform="translate(18.15,0.00) scale(0.726)" stroke-width="2.00"/><use href="#g19" transform="translate(25.41,0.00) scale(0.726)" stroke-width="2.00"/></g>
<g transform="translate(717.80,1095.05) rotate(0)" stroke="#000"><use href="#g18" transform="translate(-47.19,0.00) scale(0.726)" stroke-width="2.00"/><use href="#g19" transform="translate(-32.67,0.00) scale(0.726)" stroke-width="2.00"/><use href="#g19" transform="translate(-18.15,0.00) scale(0.726)" stroke-width="2.00"/><use href="#g19" transform="translate(-3.63,0.00) scale(0.726)" stroke-width="2.00"/><use href="#g19" transform="translate(10.89,0.00) scale(0.726)" stroke-width="2.00"/><use href="#g28" transform="translate(25.41,0.00) scale(0.726)" stroke-width="2.00"/><use href="#g19" transform="translate(32.67,0.00) scale(0.726)" stroke-width="2.00"/></g>
<g transform="translate(25.00,424.50) rotate(-90)" stroke="#000"><use href="#g29" transform="translate(0.00,0.00) scale(0.726)" stroke-width="2.00"/><use href="#g21" transform="translate(14.52,-11.50) scale(0.44)" stroke-width="3.30"/><use href="#g11" transform="translate(23.32,0.00) scale(0.726)" stroke-width="2.00"/><use href="#g30" transform="translate(38.57,0.00) scale(0.726)" stroke-width="2.00"/><use href="#g31" transform="translate(55.26,0.00) scale(0.726)" stroke-width="2.00"/><use href="#g11" transform="translate(71.24,0.00) scale(0.726)" stroke-width="2.00"/><use href="#g29" transform="translate(86.48,0.00) scale(0.726)" stroke-width="2.00"/><use href="#g32" transform="translate(112.62,0.00) scale(0.726)" stroke-width="2.00"/><use href="#g33" transform="translate(122.78,0.00) scale(0.726)" stroke-width="2.00"/><use href="#g2" transform="translate(137.30,0.00) scale(0.726)" stroke-width="2.00"/><use href="#g13" transform="translate(149.64,0.00) scale(0.726)" stroke-width="2.00"/><use href="#g4" transform="translate(164.89,0.00) scale(0.726)" stroke-width="2.00"/><use href="#g3" transform="translate(172.88,0.00) scale(0.726)" stroke-width="2.00"/><use href="#g2" transform="translate(183.77,0.00) scale(0.726)" stroke-width="2.00"/><use href="#g1" transform="translate(196.11,0.00) scale(0.726)" stroke-width="2.00"/><use href="#g2" transform="translate(210.63,0.00) scale(0.726)" stroke-width="2.00"/><use href="#g10" transform="translate(222.97,0.00) scale(0.726)" stroke-width="2.00"/><use href="#g34" transform="translate(248.38,0.00) scale(0.726)" stroke-width="2.00"/><use href="#g8" transform="translate(265.80,0.00) scale(0.726)" stroke-width="2.00"/><use href="#g4" transform="translate(281.78,0.00) scale(0.726)" stroke-width="2.00"/><use href="#g3" transform="translate(289.76,0.00) scale(0.726)" stroke-width="2.00"/><use href="#g12" transform="translate(300.65,0.00) scale(0.726)" stroke-width="2.00"/><use href="#g35" transform="translate(312.99,0.00) scale(0.726)" stroke-width="2.00"/></g>
<g transform="translate(436.90,551.70) rotate(0)" stroke="#000"><use href="#g29" transform="translate(0.00,0.00) scale(0.726)" stroke-width="2.00"/></g>
<g transform="translate(25.00,962.00) rotate(-90)" stroke="#000"><use href="#g36" transform="translate(0.00,0.00) scale(0.726)" stroke-width="2.00"/><use href="#g37" transform="translate(13.50,0.00) scale(0.726)" stroke-width="2.00"/><use href="#g36" transform="translate(29.04,5.00) scale(0.44)" stroke-width="3.30"/><use href="#g32" transform="translate(48.84,0.00) scale(0.726)" stroke-width="2.00"/><use href="#g33" transform="translate(59.00,0.00) scale(0.726)" stroke-width="2.00"/><use href="#g2" transform="translate(73.52,0.00) scale(0.726)" stroke-width="2.00"/><use href="#g13" transform="translate(85.87,0.00) scale(0.726)" stroke-width="2.00"/><use href="#g4" transform="translate(101.11,0.00) scale(0.726)" stroke-width="2.00"/><use href="#g3" transform="translate(109.10,0.00) scale(0.726)" stroke-width="2.00"/><use href="#g2" transform="translate(119.99,0.00) scale(0.726)" stroke-width="2.00"/><use href="#g1" transform="translate(132.33,0.00) scale(0.726)" stroke-width="2.00"/><use href="#g2" transform="translate(146.85,0.00) scale(0.726)" stroke-width="2.00"/><use href="#g10" transform="translate(159.19,0.00) scale(0.726)" stroke-width="2.00"/><use href="#g14" transform="translate(184.60,0.00) scale(0.726)" stroke-width="2.00"/><use href="#g8" transform="translate(200.57,0.00) scale(0.726)" stroke-width="2.00"/><use href="#g4" transform="translate(216.55,0.00) scale(0.726)" stroke-width="2.00"/><use href="#g3" transform="translate(224.53,0.00) scale(0.726)" stroke-width="2.00"/><use href="#g12" transform="translate(235.42,0.00) scale(0.726)" stroke-width="2.00"/><use href="#g35" transform="translate(247.76,0.00) scale(0.726)" stroke-width="2.00"/></g>
<g transform="translate(394.40,1122.75) rotate(0)" stroke="#000"><use href="#g38" transform="translate(0.00,0.00) scale(0.726)" stroke-width="2.00"/><use href="#g18" transform="translate(12.34,6.20) scale(0.44)" stroke-width="3.30"/><use href="#g32" transform="translate(32.76,0.00) scale(0.726)" stroke-width="2.00"/><use href="#g39" transform="translate(42.92,0.00) scale(0.726)" stroke-width="2.00"/><use href="#g7" transform="translate(61.07,0.00) scale(0.726)" stroke-width="2.00"/><use href="#g40" transform="translate(74.87,0.00) scale(0.726)" stroke-width="2.00"/><use href="#g35" transform="translate(89.39,0.00) scale(0.726)" stroke-width="2.00"/></g>
<g transform="translate(427.13,460.17) rotate(80)" stroke="#0000ff"><use href="#g19" transform="translate(0.00,0.00) scale(0.726)" stroke-width="2.00"/></g>
<g transform="translate(492.86,437.98) rotate(81)" stroke="#0000ff"><use href="#g18" transform="translate(0.00,0.00) scale(0.726)" stroke-width="2.00"/><use href="#g18" transform="translate(14.52,0.00) scale(0.726)" stroke-width="2.00"/><use href="#g19" transform="translate(29.04,0.00) scale(0.726)" stroke-width="2.00"/></g>
<g transform="translate(561.01,436.87) rotate(80)" stroke="#0000ff"><use href="#g21" transform="translate(0.00,0.00) scale(0.726)" stroke-width="2.00"/><use href="#g21" transform="translate(14.52,0.00) scale(0.726)" stroke-width="2.00"/><use href="#g19" transform="translate(29.04,0.00) scale(0.726)" stroke-width="2.00"/></g>
<g transform="translate(608.51,435.87) rotate(80)" stroke="#0000ff"><use href="#g20" transform="translate(0.00,0.00) scale(0.726)" stroke-width="2.00"/><use href="#g22" transform="translate(14.52,0.00) scale(0.726)" stroke-width="2.00"/><use href="#g24" transform="translate(29.04,0.00) scale(0.726)" stroke-width="2.00"/></g>
<g transform="translate(648.91,436.87) rotate(80)" stroke="#0000ff"><use href="#g25" transform="translate(0.00,0.00) scale(0.726)" stroke-width="2.00"/><use href="#g25" transform="translate(14.52,0.00) scale(0.726)" stroke-width="2.00"/><use href="#g21" transform="translate(29.04,0.00) scale(0.726)" stroke-width="2.00"/></g>
<g transform="translate(679.54,318.54) rotate(84.8)" stroke="#000"><use href="#g25" transform="translate(0.00,0.00) scale(0.726)" stroke-width="2.00"/><use href="#g25" transform="translate(14.52,0.00) scale(0.726)" stroke-width="2.00"/><use href="#g21" transform="translate(29.04,0.00) scale(0.726)" stroke-width="2.00"/><use href="#g41" transform="translate(55.18,0.00) scale(0.726)" stroke-width="2.00"/><use href="#g8" transform="translate(65.34,0.00) scale(0.726)" stroke-width="2.00"/><use href="#g15" transform="translate(81.31,0.00) scale(0.726)" stroke-width="2.00"/><use href="#g2" transform="translate(107.45,0.00) scale(0.726)" stroke-width="2.00"/><use href="#g1" transform="translate(119.79,0.00) scale(0.726)" stroke-width="2.00"/><use href="#g11" transform="translate(134.31,0.00) scale(0.726)" stroke-width="2.00"/><use href="#g28" transform="translate(149.56,0.00) scale(0.726)" stroke-width="2.00"/><use href="#g42" transform="translate(156.82,0.00) scale(0.726)" stroke-width="2.00"/></g>
<g transform="translate(464.81,1005.17) rotate(80)" stroke="#0000ff"><use href="#g18" transform="translate(0.00,0.00) scale(0.726)" stroke-width="2.00"/><use href="#g18" transform="translate(14.52,0.00) scale(0.726)" stroke-width="2.00"/><use href="#g19" transform="translate(29.04,0.00) scale(0.726)" stroke-width="2.00"/></g>
<g transform="translate(524.03,1027.87) rotate(80)" stroke="#0000ff"><use href="#g19" transform="translate(0.00,0.00) scale(0.726)" stroke-width="2.00"/></g>
<g transform="translate(593.71,1005.17) rotate(80)" stroke="#0000ff"><use href="#g25" transform="translate(0.00,0.00) scale(0.726)" stroke-width="2.00"/><use href="#g25" transform="translate(14.52,0.00) scale(0.726)" stroke-width="2.00"/><use href="#g21" transform="translate(29.04,0.00) scale(0.726)" stroke-width="2.00"/></g>
<g transform="translate(639.81,1004.57) rotate(80)" stroke="#0000ff"><use href="#g21" transform="translate(0.00,0.00) scale(0.726)" stroke-width="2.00"/><use href="#g21" transform="translate(14.52,0.00) scale(0.726)" stroke-width="2.00"/><use href="#g19" transform="translate(29.04,0.00) scale(0.726)" stroke-width="2.00"/></g>
<g transform="translate(686.01,1003.37) rotate(80)" stroke="#0000ff"><use href="#g20" transform="translate(0.00,0.00) scale(0.726)" stroke-width="2.00"/><use href="#g22" transform="translate(14.52,0.00) scale(0.726)" stroke-width="2.00"/><use href="#g24" transform="translate(29.04,0.00) scale(0.726)" stroke-width="2.00"/></g>
<g transform="translate(717.29,886.40) rotate(80)" stroke="#000"><use href="#g25" transform="translate(0.00,0.00) scale(0.726)" stroke-width="2.00"/><use href="#g25" transform="translate(14.52,0.00) scale(0.726)" stroke-width="2.00"/><use href="#g21" transform="translate(29.04,0.00) scale(0.726)" stroke-width="2.00"/><use href="#g41" transform="translate(55.18,0.00) scale(0.726)" stroke-width="2.00"/><use href="#g8" transform="translate(65.34,0.00) scale(0.726)" stroke-width="2.00"/><use href="#g15" transform="translate(81.31,0.00) scale(0.726)" stroke-width="2.00"/><use href="#g2" transform="translate(107.45,0.00) scale(0.726)" stroke-width="2.00"/><use href="#g1" transform="translate(119.79,0.00) scale(0.726)" stroke-width="2.00"/><use href="#g11" transform="translate(134.31,0.00) scale(0.726)" stroke-width="2.00"/><use href="#g28" transform="translate(149.56,0.00) scale(0.726)" stroke-width="2.00"/><use href="#g42" transform="translate(156.82,0.00) scale(0.726)" stroke-width="2.00"/></g>
<g transform="translate(573.00,97.00) rotate(-90)" stroke="#ff0000"><use href="#g29" transform="translate(0.00,0.00) scale(0.726)" stroke-width="2.34"/><use href="#g2" transform="translate(14.52,5.90) scale(0.44)" stroke-width="3.86"/><use href="#g1" transform="translate(22.00,5.90) scale(0.44)" stroke-width="3.86"/><use href="#g11" transform="translate(30.80,5.90) scale(0.44)" stroke-width="3.86"/></g>
<g transform="translate(504.30,714.60) rotate(-90)" stroke="#ff0000"><use href="#g18" transform="translate(0.00,0.00) scale(0.726)" stroke-width="2.48"/><use href="#g25" transform="translate(14.52,0.00) scale(0.726)" stroke-width="2.48"/><use href="#g19" transform="translate(29.04,0.00) scale(0.726)" stroke-width="2.48"/><use href="#g39" transform="translate(55.18,0.00) scale(0.726)" stroke-width="2.48"/><use href="#g7" transform="translate(73.33,0.00) scale(0.726)" stroke-width="2.48"/><use href="#g40" transform="translate(87.12,0.00) scale(0.726)" stroke-width="2.48"/></g>
</g>
</svg></body></html>
